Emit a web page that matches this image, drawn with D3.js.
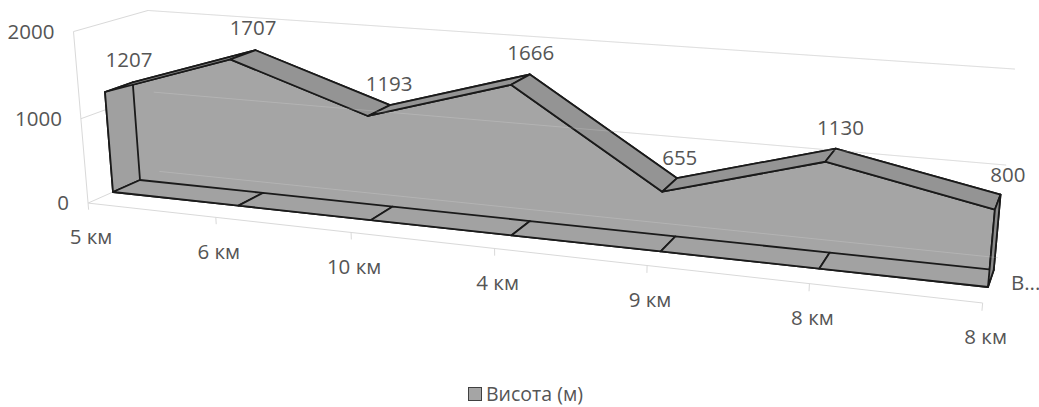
<!DOCTYPE html>
<html><head><meta charset="utf-8">
<script src="https://cdn.jsdelivr.net/npm/d3@7"></script>
<style>
html,body{margin:0;padding:0;background:#fff;}
svg{display:block;}
text{font-family:"Open Sans",sans-serif;fill:#555555;}
</style></head><body>
<svg id="chart" width="1039" height="407"></svg>
<script>
// ---- data ----
const categories = ["5 км", "6 км", "10 км", "4 км", "9 км", "8 км", "8 км"];
const heights = [1207, 1707, 1193, 1666, 655, 1130, 800];
const valueTicks = [0, 1000, 2000];
const seriesName = "Висота (м)";
const seriesAxisLabel = "В...";

// ---- scales into world space: x = category position, y = value fraction, z = depth ----
const n = categories.length;
const x = d3.scalePoint().domain(d3.range(n)).range([0, n - 1]);
const y = d3.scaleLinear().domain([0, 2000]).range([0, 1]);

// depth planes of the scene
const Z_FRONT = 0, Z_BACK = 1;          // area slab
const Z_FLOOR_FRONT = -0.88, Z_WALL = 1.75;

// perspective camera as a 3x4 projective matrix (world -> screen)
const CAM = [
  [118.96, -16.52, 30.64, 113],
  [8.027, -168.57, -7.32, 192],
  [-0.0272, -0.03116, 0.026, 1]
];
function project(px, py, pz) {
  const v = [px, py, pz, 1];
  const r = CAM.map(row => row[0] * v[0] + row[1] * v[1] + row[2] * v[2] + row[3] * v[3]);
  return [r[0] / r[2], r[1] / r[2]];
}
const P = (i, val, z) => project(x(i), y(val), z);
const poly = pts => "M" + pts.map(p => p[0].toFixed(2) + "," + p[1].toFixed(2)).join("L") + "Z";
const seg = (a, b) => "M" + a[0] + "," + a[1] + "L" + b[0] + "," + b[1];

const svg = d3.select("#chart");
const walls = svg.append("g").attr("fill", "none").attr("stroke", "#d9d9d9").attr("stroke-width", 1);

// side wall and back wall gridlines
valueTicks.forEach(t => {
  walls.append("path").attr("d", seg(P(0, t, Z_FLOOR_FRONT), P(0, t, Z_WALL)));
  walls.append("path").attr("d", seg(P(0, t, Z_WALL), P(n - 1, t, Z_WALL)));
});
// value axis line
walls.append("path").attr("d", seg(P(0, 0, Z_FLOOR_FRONT), P(0, 2000, Z_FLOOR_FRONT)));
// category axis line with ticks
walls.append("path").attr("d", seg(P(0, 0, Z_FLOOR_FRONT), P(n - 1, 0, Z_FLOOR_FRONT)));
d3.range(n).forEach(i => {
  walls.append("path").attr("d", seg(P(i, 0, Z_FLOOR_FRONT), P(i, -80, Z_FLOOR_FRONT)));
});

// ---- 3D area slab ----
const area = svg.append("g").attr("stroke", "#1a1a1a").attr("stroke-width", 1.8)
  .attr("stroke-linejoin", "round");
const idx = d3.range(n);
const topFront = idx.map(i => P(i, heights[i], Z_FRONT));
const topBack = idx.map(i => P(i, heights[i], Z_BACK));
const botFront = idx.map(i => P(i, 0, Z_FRONT));
const botBack = idx.map(i => P(i, 0, Z_BACK));

const FACE = "#a5a5a5", TOP = "#949494", BOTTOM = "#a2a2a2", CAP_L = "#a0a0a0", CAP_R = "#8c8c8c";

// back face, front face
area.append("path").attr("fill", FACE).attr("d", poly(topBack.concat(botBack.slice().reverse())));
area.append("path").attr("fill", FACE).attr("d", poly(topFront.concat(botFront.slice().reverse())));
// left end cap
area.append("path").attr("fill", CAP_L)
  .attr("d", poly([topFront[0], topBack[0], botBack[0], botFront[0]]));
// bottom face, one panel per category step
d3.range(n - 1).forEach(i => {
  area.append("path").attr("fill", BOTTOM)
    .attr("d", poly([botFront[i], botFront[i + 1], botBack[i + 1], botBack[i]]));
});
// top surface panels
d3.range(n - 1).forEach(i => {
  area.append("path").attr("fill", TOP)
    .attr("d", poly([topFront[i], topFront[i + 1], topBack[i + 1], topBack[i]]));
});
// right end cap
area.append("path").attr("fill", CAP_R)
  .attr("d", poly([topFront[n - 1], topBack[n - 1], botBack[n - 1], botFront[n - 1]]));

// back wall gridlines showing faintly through the slab
const haze = svg.append("g").attr("fill", "none").attr("stroke", "#ffffff")
  .attr("stroke-opacity", 0.16).attr("stroke-width", 1);
valueTicks.forEach(t => {
  haze.append("path").attr("d", seg(P(0, t, Z_WALL), P(n - 1, t, Z_WALL)));
});

// ---- text ----
const FS = 20.5;
// value axis labels
valueTicks.forEach(t => {
  const p = P(0, t, Z_FLOOR_FRONT);
  svg.append("text").attr("x", p[0] - 19).attr("y", p[1]).attr("dy", "0.35em")
    .attr("text-anchor", "end").attr("font-size", FS).text(t);
});
// category labels
categories.forEach((c, i) => {
  const p = P(i, 0, Z_FLOOR_FRONT);
  svg.append("text").attr("x", p[0] + 3).attr("y", p[1] + 34).attr("dy", "0.35em")
    .attr("text-anchor", "middle").attr("font-size", FS).text(c);
});
// data labels
heights.forEach((h, i) => {
  const p = P(i, h, (Z_FRONT + Z_BACK) / 2);
  svg.append("text").attr("x", p[0] + 10).attr("y", p[1] - 27).attr("dy", "0.35em")
    .attr("text-anchor", "middle").attr("font-size", FS).text(h);
});
// series (depth) axis label
{
  const p = P(n - 1, 0, (Z_FRONT + Z_BACK) / 2);
  svg.append("text").attr("x", p[0] + 20).attr("y", p[1] + 5).attr("dy", "0.35em")
    .attr("text-anchor", "start").attr("font-size", FS).text(seriesAxisLabel);
}
// legend
const lg = svg.append("g");
lg.append("rect").attr("x", 468.5).attr("y", 387.5).attr("width", 13).attr("height", 13)
  .attr("fill", FACE).attr("stroke", "#404040").attr("stroke-width", 1);
lg.append("text").attr("x", 486).attr("y", 394).attr("dy", "0.35em")
  .attr("font-size", 19.5).text(seriesName);
</script>
</body></html>
